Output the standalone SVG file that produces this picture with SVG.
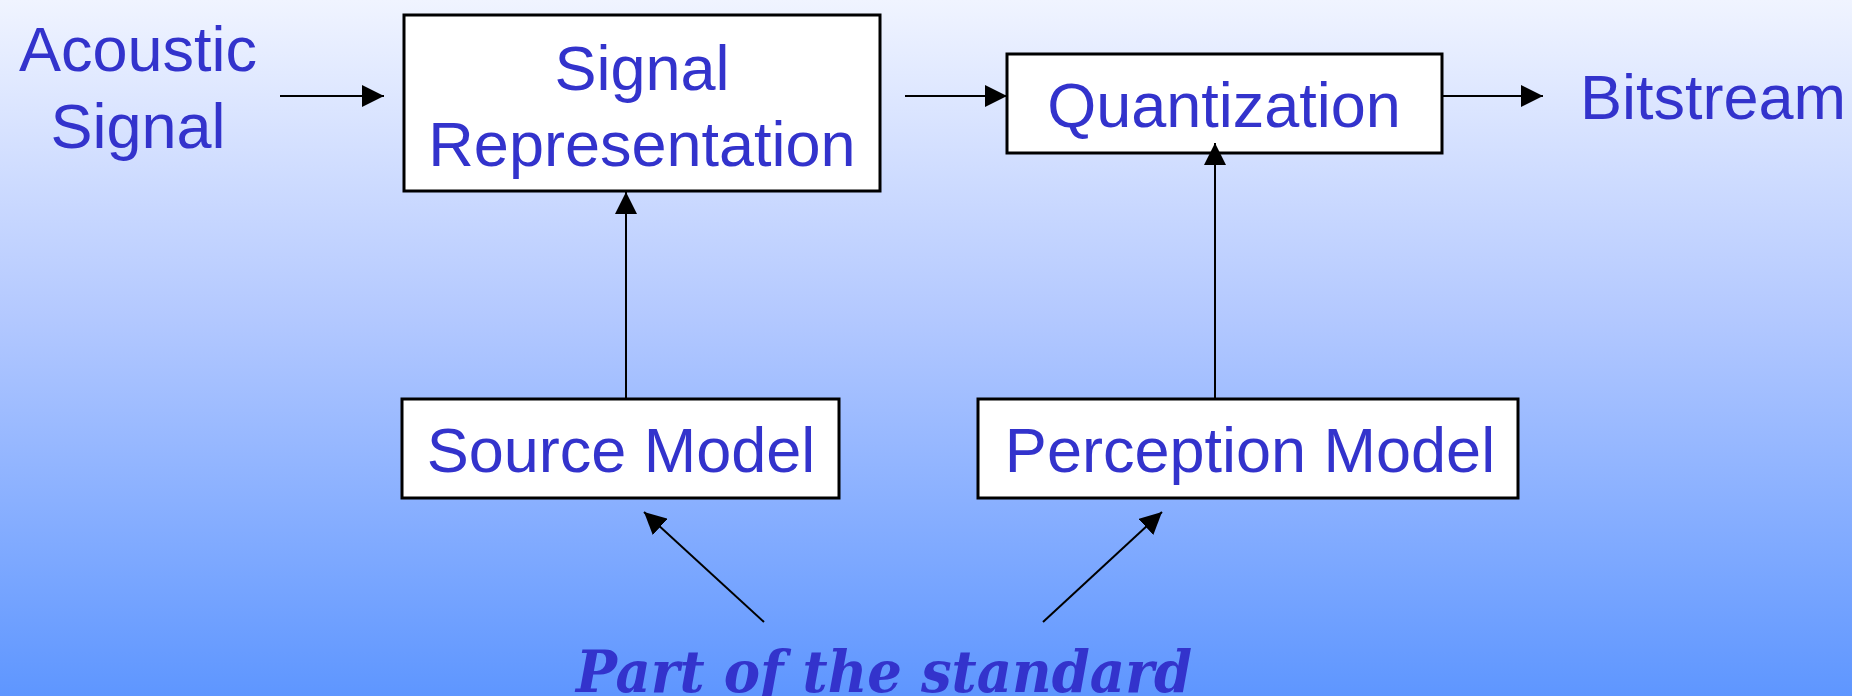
<svg xmlns="http://www.w3.org/2000/svg" width="1852" height="696" viewBox="0 0 1852 696">
  <defs>
    <linearGradient id="bg" x1="0" y1="0" x2="0" y2="1">
      <stop offset="0" stop-color="#F0F4FF"/>
      <stop offset="0.45" stop-color="#B4C9FF"/>
      <stop offset="1" stop-color="#5E96FF"/>
    </linearGradient>
    <marker id="arr" markerUnits="userSpaceOnUse" markerWidth="22" markerHeight="22" refX="22" refY="11" orient="auto" viewBox="0 0 22 22">
      <path d="M0,0 L22,11 L0,22 z" fill="#000"/>
    </marker>
    <style>
      .box { fill: #FFFFFF; stroke: #000; stroke-width: 3; }
      .lbl { font-family: "Liberation Sans", Arial, sans-serif; font-size: 63px; fill: #3333CC; }
      .mid { text-anchor: middle; }
      .conn { stroke: #000; stroke-width: 2; fill: none; marker-end: url(#arr); }
      .note { font-family: "DejaVu Serif", "Liberation Serif", serif; font-style: italic; font-weight: bold; font-size: 58px; fill: #3333CC; text-anchor: middle; }
    </style>
  </defs>
  <rect x="0" y="0" width="1852" height="696" fill="url(#bg)"/>

  <g id="acoustic-signal">
    <text class="lbl mid" x="138" y="71">Acoustic</text>
    <text class="lbl mid" x="138" y="148">Signal</text>
  </g>

  <g id="signal-representation">
    <rect class="box" x="404" y="15" width="476" height="176"/>
    <text class="lbl mid" x="642" y="90">Signal</text>
    <text class="lbl mid" x="642" y="166">Representation</text>
  </g>

  <g id="quantization">
    <rect class="box" x="1007" y="54" width="435" height="99"/>
    <text class="lbl mid" x="1224" y="127">Quantization</text>
  </g>

  <g id="bitstream">
    <text class="lbl" x="1580" y="119">Bitstream</text>
  </g>

  <g id="source-model">
    <rect class="box" x="402" y="399" width="437" height="99"/>
    <text class="lbl mid" x="621" y="472">Source Model</text>
  </g>

  <g id="perception-model">
    <rect class="box" x="978" y="399" width="540" height="99"/>
    <text class="lbl mid" x="1250" y="472">Perception Model</text>
  </g>

  <g id="part-of-standard">
    <text class="note" x="884" y="692" textLength="616" lengthAdjust="spacingAndGlyphs">Part of the standard</text>
  </g>

  <g id="connectors">
    <line class="conn" x1="280" y1="96" x2="384" y2="96"/>
    <line class="conn" x1="905" y1="96" x2="1007" y2="96"/>
    <line class="conn" x1="1442" y1="96" x2="1543" y2="96"/>
    <line class="conn" x1="626" y1="399" x2="626" y2="192"/>
    <line class="conn" x1="1215" y1="399" x2="1215" y2="143"/>
    <line class="conn" x1="764" y1="622" x2="644" y2="512"/>
    <line class="conn" x1="1043" y1="622" x2="1162" y2="512"/>
  </g>
</svg>
